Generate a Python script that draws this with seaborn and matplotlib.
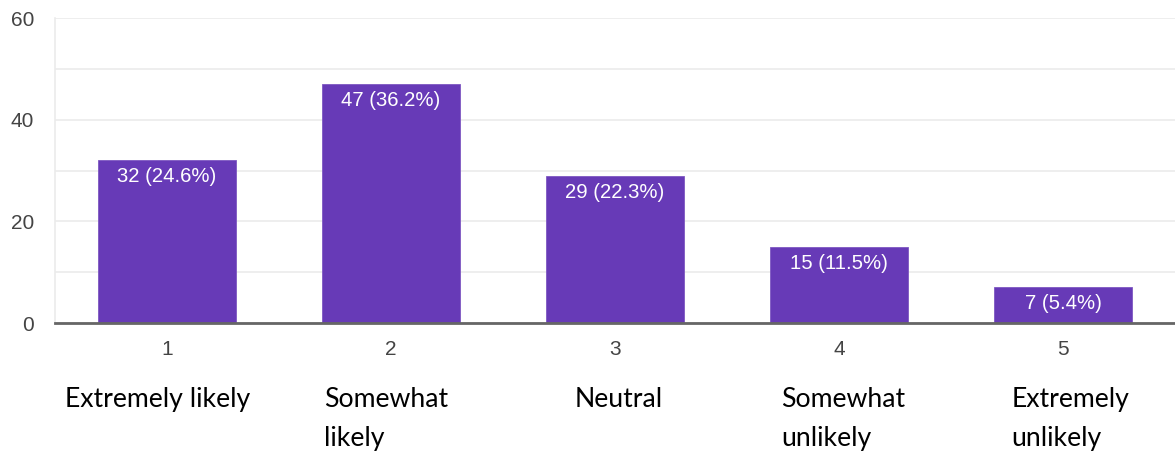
import matplotlib
matplotlib.use("Agg")
import matplotlib.pyplot as plt
import seaborn as sns
import pandas as pd

categories = ["1", "2", "3", "4", "5"]
counts = [32, 47, 29, 15, 7]
percents = ["24.6%", "36.2%", "22.3%", "11.5%", "5.4%"]
descriptions = [["Extremely likely"], ["Somewhat", "likely"], ["Neutral"],
                ["Somewhat", "unlikely"], ["Extremely", "unlikely"]]
yticks = [0, 20, 40, 60]

df = pd.DataFrame({"cat": categories, "count": counts})

sns.set_theme(style="white")
plt.rcParams["font.family"] = ["Liberation Sans", "DejaVu Sans"]

fig = plt.figure(figsize=(11.75, 4.54), dpi=100)
ax = fig.add_axes([0.0468, 0.2885, 0.9532, 0.6715])

sns.barplot(data=df, x="cat", y="count", color="#673AB7", saturation=1,
            width=0.62, ax=ax, zorder=3, edgecolor="#7E57C2", linewidth=0.6)

ax.set_ylim(0, 60)
ax.set_xlim(-0.5, 4.5)
ax.set_yticks(range(0, 61, 10))
ax.set_yticklabels([str(v) if v in yticks else "" for v in range(0, 61, 10)])
ax.grid(axis="y", color="#ebebeb", linewidth=1.2, zorder=0)
ax.set_axisbelow(True)
for s in ["top", "right"]:
    ax.spines[s].set_visible(False)
ax.spines["left"].set_color("#ebebeb")
ax.spines["left"].set_linewidth(1.2)
ax.spines["bottom"].set_color("#666666")
ax.spines["bottom"].set_linewidth(2)
ax.spines["bottom"].set_zorder(4)
ax.tick_params(axis="both", length=0, labelsize=15, labelcolor="#444444")
ax.tick_params(axis="x", pad=12)
ax.tick_params(axis="y", pad=15)
ax.set_xlabel("")
ax.set_ylabel("")

for i, (c, p) in enumerate(zip(counts, percents)):
    ax.annotate(f"{c} ({p})", (i, c), xytext=(0, -5), textcoords="offset points",
                ha="center", va="top", color="white", fontsize=14.6, zorder=5)

offsets = [-0.455, -0.30, -0.18, -0.26, -0.23]
for i, (lines, off) in enumerate(zip(descriptions, offsets)):
    for j, line in enumerate(lines):
        ax.text(i + off, -15.0 - j * 7.7, line, ha="left", va="center",
                fontsize=19.2, color="black", family=["Lato", "DejaVu Sans"],
                transform=ax.transData, clip_on=False)

fig.savefig("out.png", dpi=100)
